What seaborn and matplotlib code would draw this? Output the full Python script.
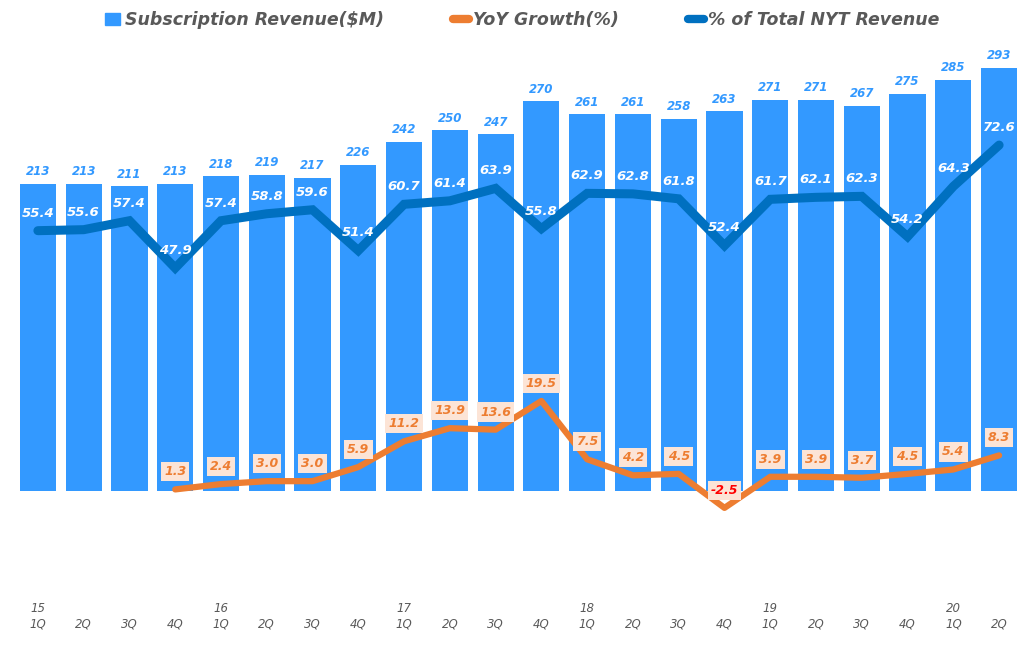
import matplotlib.pyplot as plt
import matplotlib.lines as mlines
import matplotlib.patches as mpatches
import numpy as np
import pandas as pd
import seaborn as sns

# Datos
years = ["15", "", "", "", "16", "", "", "", "17", "", "", "", "18", "", "", "", "19", "", "", "", "20", ""]
quarters = ["1Q", "2Q", "3Q", "4Q"] * 5 + ["1Q", "2Q"]
revenue = [213, 213, 211, 213, 218, 219, 217, 226, 242, 250, 247, 270,
           261, 261, 258, 263, 271, 271, 267, 275, 285, 293]
yoy = [np.nan, np.nan, np.nan, 1.3, 2.4, 3.0, 3.0, 5.9, 11.2, 13.9, 13.6, 19.5,
       7.5, 4.2, 4.5, -2.5, 3.9, 3.9, 3.7, 4.5, 5.4, 8.3]
share = [55.4, 55.6, 57.4, 47.9, 57.4, 58.8, 59.6, 51.4, 60.7, 61.4, 63.9, 55.8,
         62.9, 62.8, 61.8, 52.4, 61.7, 62.1, 62.3, 54.2, 64.3, 72.6]

df = pd.DataFrame({"idx": range(len(revenue)), "revenue": revenue, "yoy": yoy, "share": share})

sns.set_style("white")
plt.rcParams['font.family'] = ['DejaVu Sans']

bar_c = "#3399FF"
share_c = "#0070C0"
yoy_c = "#ED7D31"
txt_c = "#595959"

fig = plt.figure(figsize=(10.24, 6.5), dpi=100)
ax = fig.add_axes([15 / 1024, 1 - 590 / 650, 1007 / 1024, 535 / 650])

# Barras de ingresos por suscripcion
sns.barplot(ax=ax, data=df, x="idx", y="revenue", color=bar_c, width=0.79,
            saturation=1, edgecolor="none")
ax.set_ylim(-68.5, 302)
ax.set_xlim(-0.5, 21.5)
for i, v in enumerate(revenue):
    ax.annotate(str(v), (i, v), xytext=(0, 4), textcoords="offset points",
                ha="center", va="bottom", color=bar_c, fontsize=8.5,
                fontweight="bold", fontstyle="italic")

# Linea % del total
ax2 = ax.twinx()
sns.lineplot(ax=ax2, data=df, x="idx", y="share", color=share_c, linewidth=6.5,
             solid_capstyle="round", solid_joinstyle="miter")
ax2.set_ylim(-16.8, 90.7)
for i, v in enumerate(share):
    ax2.annotate(f"{v:.1f}", (i, v), xytext=(0, 8), textcoords="offset points",
                 ha="center", va="bottom", color="white", fontsize=9.5,
                 fontweight="bold", fontstyle="italic")

# Linea crecimiento interanual
ax3 = ax.twinx()
sns.lineplot(ax=ax3, data=df, x="idx", y="yoy", color=yoy_c, linewidth=4.5,
             solid_capstyle="round")
ax3.set_ylim(-19.4, 90.7)
for i, v in enumerate(yoy):
    if np.isnan(v):
        continue
    ax3.annotate(f"{v:.1f}", (i, v), xytext=(0, 8), textcoords="offset points",
                 ha="center", va="bottom", color="red" if v < 0 else yoy_c,
                 fontsize=9, fontweight="bold", fontstyle="italic",
                 bbox=dict(boxstyle="square,pad=0.25", fc="#FCE4D6", ec="none"))

for a in (ax, ax2, ax3):
    a.set_xlim(-0.5, 21.5)
    a.set_xticks([])
    a.set_yticks([])
    a.set_xlabel("")
    a.set_ylabel("")
    for s in a.spines.values():
        s.set_visible(False)

# Etiquetas del eje x en dos lineas
for i in range(len(quarters)):
    ax.text(i, -0.022, years[i], transform=ax.get_xaxis_transform(), ha="center",
            va="top", fontsize=8.5, fontstyle="italic", color=txt_c)
    ax.text(i, -0.052, quarters[i], transform=ax.get_xaxis_transform(), ha="center",
            va="top", fontsize=8.5, fontstyle="italic", color=txt_c)

# Leyenda
handles = [
    mpatches.Patch(color=bar_c, label="Subscription Revenue($M)"),
    mlines.Line2D([], [], color=yoy_c, lw=6, solid_capstyle="round", label="YoY Growth(%)"),
    mlines.Line2D([], [], color=share_c, lw=6, solid_capstyle="round", label="% of Total NYT Revenue"),
]
fig.legend(handles=handles, loc="center", bbox_to_anchor=(0.51, 1 - 20 / 650), ncol=3,
           frameon=False, handlelength=0.9, handletextpad=0.25, columnspacing=4,
           prop=dict(size=12.5, weight="bold", style="italic"), labelcolor=txt_c)

fig.savefig("out.png", dpi=100)
